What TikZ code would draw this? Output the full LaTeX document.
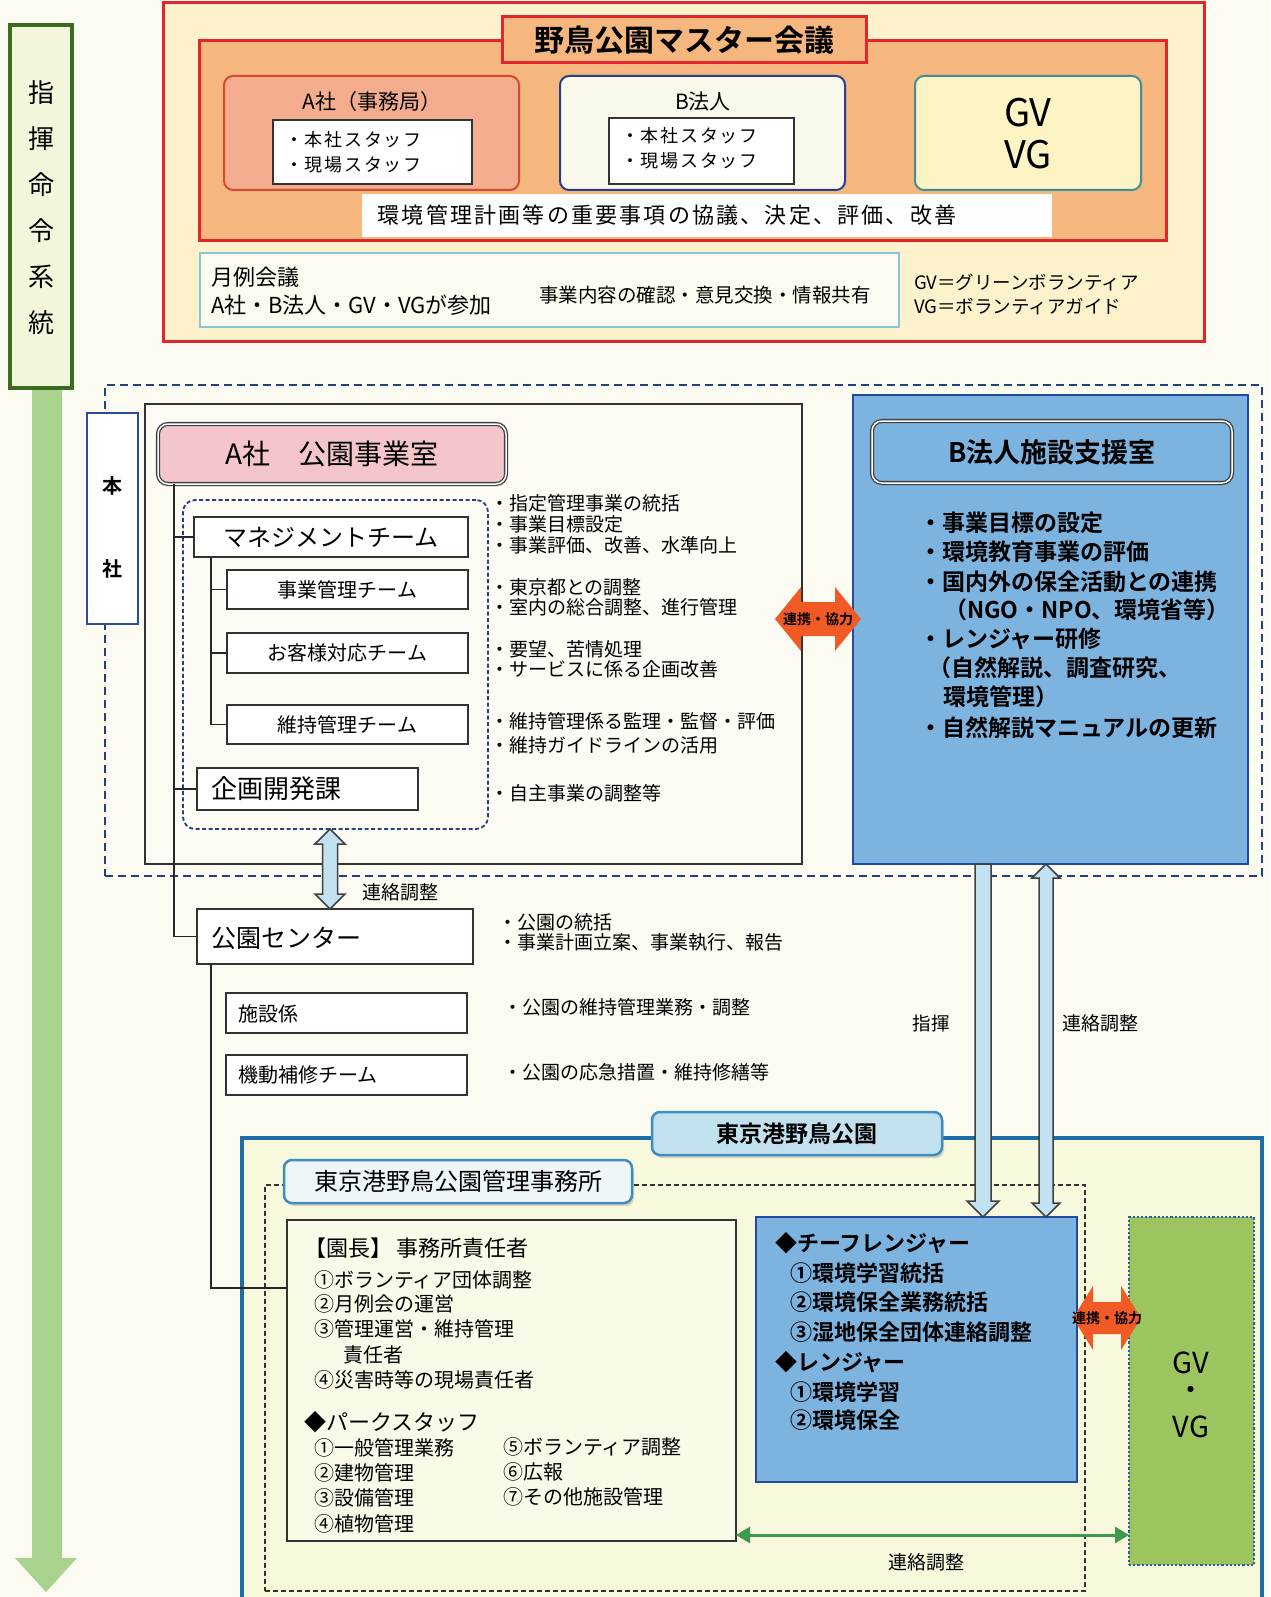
\documentclass[tikz,border=0pt]{standalone}
\usepackage{fontspec}
\setmainfont{Noto Sans CJK JP}[BoldFont={Noto Sans CJK JP Bold}]
\newfontfamily\jpwide{Noto Sans CJK JP}[LetterSpace=10]
\usetikzlibrary{arrows.meta,calc,shadows}
\definecolor{bgc}{HTML}{FCFBF1}
\definecolor{yelT}{HTML}{FDF2CB}
\definecolor{redT}{HTML}{E3262B}
\definecolor{oraT}{HTML}{F5B77E}
\definecolor{salT}{HTML}{F3AC8E}
\definecolor{salB}{HTML}{D9482F}
\definecolor{bwF}{HTML}{FBF9EC}
\definecolor{bwB}{HTML}{26408F}
\definecolor{gvF}{HTML}{FCF4C2}
\definecolor{gvB}{HTML}{3E8E9E}
\definecolor{getsuF}{HTML}{FCFBF0}
\definecolor{getsuB}{HTML}{8BC4D6}
\definecolor{navyD}{HTML}{23407F}
\definecolor{honB}{HTML}{2A4CA8}
\definecolor{aboxF}{HTML}{FCFBF4}
\definecolor{pinkH}{HTML}{F4C6CB}
\definecolor{blueB}{HTML}{7DB3DF}
\definecolor{blueBd}{HTML}{2349A0}
\definecolor{lblue}{HTML}{C3E2F1}
\definecolor{tabF}{HTML}{C2E1EF}
\definecolor{tabB}{HTML}{3F8DC0}
\definecolor{tab2F}{HTML}{EEF6FA}
\definecolor{parkB}{HTML}{1D6EA4}
\definecolor{parkF}{HTML}{F8F8DC}
\definecolor{enchoF}{HTML}{FAFAE8}
\definecolor{gvgF}{HTML}{9CC55F}
\definecolor{gvgB}{HTML}{2A5FA0}
\definecolor{greenA}{HTML}{3D9A4C}
\definecolor{orA}{HTML}{F15A24}
\definecolor{greenL}{HTML}{A8D28E}
\definecolor{greenD}{HTML}{3C6B22}
\definecolor{greenBF}{HTML}{F3F6DA}
\newcommand\bx[7]{\node[#6,minimum width={(#4)-(#2)},minimum height={(#5)-(#3)}] (#1) at ({((#2)+(#4))/2},{((#3)+(#5))/2}) {#7};}
\newcommand\vdown[4]{\path[#1] let \p1=(#2),\p2=(#3) in (\x1-#4pt,\y1) -- (\x1-#4pt,\y2+2*#4pt) -- (\x1-2*#4pt,\y2+2*#4pt) -- (\x1,\y2) -- (\x1+2*#4pt,\y2+2*#4pt) -- (\x1+#4pt,\y2+2*#4pt) -- (\x1+#4pt,\y1) -- cycle;}
\newcommand\vboth[4]{\path[#1] let \p1=(#2),\p2=(#3) in (\x1,\y1) -- (\x1-2*#4pt,\y1-2*#4pt) -- (\x1-#4pt,\y1-2*#4pt) -- (\x1-#4pt,\y2+2*#4pt) -- (\x1-2*#4pt,\y2+2*#4pt) -- (\x1,\y2) -- (\x1+2*#4pt,\y2+2*#4pt) -- (\x1+#4pt,\y2+2*#4pt) -- (\x1+#4pt,\y1-2*#4pt) -- (\x1+2*#4pt,\y1-2*#4pt) -- cycle;}
% horizontal double block arrow: style, centre, half length, head half height, shaft half height, head length
\newcommand\hboth[6]{\path[#1] let \p1=(#2) in (\x1-#3pt,\y1) -- (\x1-#3pt+#6pt,\y1+#4pt) -- (\x1-#3pt+#6pt,\y1+#5pt) -- (\x1+#3pt-#6pt,\y1+#5pt) -- (\x1+#3pt-#6pt,\y1+#4pt) -- (\x1+#3pt,\y1) -- (\x1+#3pt-#6pt,\y1-#4pt) -- (\x1+#3pt-#6pt,\y1-#5pt) -- (\x1-#3pt+#6pt,\y1-#5pt) -- (\x1-#3pt+#6pt,\y1-#4pt) -- cycle;}
\tikzset{
 fs/.style={font=\fontsize{#1}{#1}\selectfont},
 fsb/.style={font=\fontsize{#1}{#1}\selectfont\bfseries},
 tbox/.style={draw=black!80,line width=1.5,fill=white},
 tl/.style={anchor=west},
 tline/.style={draw=black!85,line width=1.5},
 barrow/.style={draw=black!75,line width=1.5,fill=lblue},
 orarrow/.style={fill=orA},
 garrow/.style={draw=greenA,line width=3,{Triangle[length=14pt,width=16pt]}-{Triangle[length=14pt,width=16pt]}},
 hdr/.style={draw=black!75,double=white,double distance=1.5pt,line width=1.3,rounded corners=10},
 tabs/.style={rounded corners=8,line width=2.5,drop shadow={shadow xshift=2pt,shadow yshift=-3pt,opacity=0.3}},
}
\begin{document}
\begin{tikzpicture}[x=1pt,y=-1pt,every node/.style={inner sep=0pt,outer sep=0pt}]
\useasboundingbox (0,0) rectangle (1270,1597);
\fill[bgc] (0,0) rectangle (1270,1597);

% ---------- left command column ----------
\bx{gbox}{10}{25}{72}{388}{draw=greenD,line width=4,fill=greenBF}{}
\fill[greenL] (gbox.south) ++(-9,0) -- ++(0,1170) -- ++(-17,0) -- (46,1592) -- (77,1558) -- (62,1558) -- (62,388) -- cycle;
\draw[greenD,line width=4] (gbox.south west) -- (gbox.south east);
\node[font=\fontsize{26}{46}\selectfont,align=center] (cmd) at (41,208) {指\\揮\\命\\令\\系\\統};

% ---------- top: master meeting ----------
\bx{topouter}{163}{3}{1204}{341}{draw=redT,line width=3,fill=yelT}{}
\bx{orng}{199}{41}{1166}{241}{draw=redT,line width=3,fill=oraT}{}
\bx{ttl}{502}{17}{866}{63}{draw=redT,line width=3,fill=oraT,fsb=30}{野鳥公園マスター会議}
\bx{asha}{224}{76}{519}{190}{draw=salB,line width=2,fill=salT,rounded corners=9}{}
\node[fs=21] (ashat) at (372,102) {A社（事務局）};
\bx{ashain}{273}{120}{472}{184}{draw=black!80,line width=1.5,fill=white}{}
\node[tl,font=\jpwide\fontsize{18}{18}\selectfont] (as1) at (285,140) {・本社スタッフ};
\node[tl,font=\jpwide\fontsize{18}{18}\selectfont] (as2) at (285,165) {・現場スタッフ};
\bx{bho}{560}{76}{845}{190}{draw=bwB,line width=2,fill=bwF,rounded corners=9}{}
\node[fs=21] (bhot) at (703,102) {B法人};
\bx{bhoin}{609}{118}{794}{184}{draw=black!80,line width=1.5,fill=white}{}
\node[tl,font=\jpwide\fontsize{18}{18}\selectfont] (bs1) at (621,136) {・本社スタッフ};
\node[tl,font=\jpwide\fontsize{18}{18}\selectfont] (bs2) at (621,161) {・現場スタッフ};
\bx{gvtop}{915}{76}{1141}{190}{draw=gvB,line width=2,fill=gvF,rounded corners=9}{}
\node[fs=38] (gv1) at (1028,113) {GV};
\node[fs=38] (gv2) at (1028,155) {VG};
\bx{strip}{362}{194}{1052}{237}{fill=white}{}
\node[font=\jpwide\fontsize{22}{22}\selectfont] (stript) at (667,215) {環境管理計画等の重要事項の協議、決定、評価、改善};
\bx{getsu}{200}{253}{899}{327}{draw=getsuB,line width=1.8,fill=getsuF}{}
\node[tl,fs=22] (g1) at (211,277) {月例会議};
\node[tl,fs=22] (g2) at (211,305) {A社・B法人・GV・VGが参加};
\node[fs=19.5] (g3) at (705,295) {事業内容の確認・意見交換・情報共有};
\node[tl,fs=18.5] (abbr1) at (914,282) {GV＝グリーンボランティア};
\node[tl,fs=18.5] (abbr2) at (914,307) {VG＝ボランティアガイド};

% ---------- middle ----------
\bx{dmid}{105}{385}{1262}{876}{draw=navyD,dash pattern=on 8pt off 5pt,line width=2}{}
\bx{honsha}{87}{413}{138}{624}{draw=honB,line width=2,fill=white}{}
\node[fsb=20] (hon1) at (112,486) {本};
\node[fsb=20] (hon2) at (112,569) {社};
\bx{abox}{145}{404}{802}{864}{draw=black!80,line width=1.5,fill=aboxF}{}
\bx{hdrA}{158}{424}{506}{484}{hdr,fill=pinkH,fs=28}{A社　公園事業室}
\bx{idash}{183}{500}{488}{829}{draw=navyD,dash pattern=on 4pt off 2.5pt,line width=1.8,rounded corners=12}{}
\bx{mgmt}{194}{517}{468}{557}{tbox,fs=24}{マネジメントチーム}
\bx{jigyo}{227}{570}{468}{609}{tbox,fs=20}{事業管理チーム}
\bx{okyaku}{227}{633}{468}{673}{tbox,fs=20}{お客様対応チーム}
\bx{iji}{227}{705}{468}{744}{tbox,fs=20}{維持管理チーム}
\bx{kikaku}{197}{768}{418}{810}{tbox}{}
\node[tl,fs=26] (kikakut) at (211,789) {企画開発課};
\node[tl,fs=19] (ab1) at (490,503) {・指定管理事業の統括};
\node[tl,fs=19] (ab2) at (490,524) {・事業目標設定};
\node[tl,fs=19] (ab3) at (490,545) {・事業評価、改善、水準向上};
\node[tl,fs=19] (ab4) at (490,587) {・東京都との調整};
\node[tl,fs=19] (ab5) at (490,607) {・室内の総合調整、進行管理};
\node[tl,fs=19] (ab6) at (490,649) {・要望、苦情処理};
\node[tl,fs=19] (ab7) at (490,669) {・サービスに係る企画改善};
\node[tl,fs=19] (ab8) at (490,721) {・維持管理係る監理・監督・評価};
\node[tl,fs=19] (ab9) at (490,745) {・維持ガイドラインの活用};
\node[tl,fs=19] (ab10) at (490,793) {・自主事業の調整等};

\bx{bbox}{853}{395}{1248}{864}{draw=blueBd,line width=2,fill=blueB}{}
\bx{hdrB}{872}{421}{1232}{483}{hdr,fill=blueB,fsb=27}{B法人施設支援室}
\node[tl,fsb=23] (bb1) at (919,523) {・事業目標の設定};
\node[tl,fsb=23] (bb2) at (919,552) {・環境教育事業の評価};
\node[tl,fsb=23] (bb3) at (919,582) {・国内外の保全活動との連携};
\node[tl,fsb=23] (bb4) at (944,610) {（NGO・NPO、環境省等）};
\node[tl,fsb=23] (bb5) at (919,639) {・レンジャー研修};
\node[tl,fsb=23] (bb6) at (928,668) {（自然解説、調査研究、};
\node[tl,fsb=23] (bb7) at (943,697) {環境管理）};
\node[tl,fsb=23] (bb8) at (919,728) {・自然解説マニュアルの更新};

\coordinate (oa1) at (818,619);
\hboth{orarrow}{oa1}{43}{32}{17}{26}
\node[fsb=14] (oa1t) at (oa1) {連携・協力};

\bx{koen}{197}{909}{473}{964}{tbox}{}
\node[tl,fs=25] (koent) at (211,938) {公園センター};
\node[tl,fs=19] (kb1) at (498,922) {・公園の統括};
\node[tl,fs=19] (kb2) at (498,942) {・事業計画立案、事業執行、報告};
\bx{shisetsu}{226}{993}{467}{1033}{tbox}{}
\node[tl,fs=20] (shisetsut) at (238,1014) {施設係};
\bx{kido}{226}{1055}{467}{1095}{tbox}{}
\node[tl,fs=20] (kidot) at (238,1075) {機動補修チーム};
\node[tl,fs=19] (sb1) at (503,1007) {・公園の維持管理業務・調整};
\node[tl,fs=19] (sb2) at (503,1072) {・公園の応急措置・維持修繕等};

% tree lines
\coordinate (tx) at (174,0);
\coordinate (sx) at (211,0);
\coordinate (ey) at (0,1288);
\draw[tline] (hdrA.south -| tx) |- (koen.west);
\draw[tline] (mgmt.west -| tx) -- (mgmt.west);
\draw[tline] (kikaku.west -| tx) -- (kikaku.west);
\draw[tline] (mgmt.south -| sx) |- (iji.west);
\draw[tline] (jigyo.west -| sx) -- (jigyo.west);
\draw[tline] (okyaku.west -| sx) -- (okyaku.west);

% link arrow between A-room and park center
\coordinate (lx) at (330,0);
\vboth{barrow}{idash.south -| lx}{koen.north -| lx}{7.5}
\node[fs=19] (lk1) at (400,892) {連絡調整};

% ---------- bottom: park ----------
\bx{park}{242}{1138}{1262}{1625}{draw=parkB,line width=4,fill=parkF}{}
\bx{parktab}{652}{1112}{942}{1155}{tabs,draw=tabB,fill=tabF,fsb=23}{東京港野鳥公園}
\bx{dbot}{265}{1185}{1085}{1591}{draw=black!80,dash pattern=on 5pt off 3pt,line width=1.3}{}
\bx{jimutab}{284}{1160}{632}{1203}{tabs,draw=tabB,fill=tab2F,fs=24}{東京港野鳥公園管理事務所}
\bx{encho}{287}{1220}{736}{1541}{draw=black!80,line width=1.5,fill=enchoF}{}
\node[tl,fs=22] (e0) at (304,1248) {【園長】 事務所責任者};
\node[tl,fs=20] (e1) at (314,1280) {①ボランティア団体調整};
\node[tl,fs=20] (e2) at (314,1304) {②月例会の運営};
\node[tl,fs=20] (e3) at (314,1329) {③管理運営・維持管理};
\node[tl,fs=20] (e3b) at (343,1355) {責任者};
\node[tl,fs=20] (e4) at (314,1380) {④災害時等の現場責任者};
\node[tl,fs=22] (p0) at (304,1422) {◆パークスタッフ};
\node[tl,fs=20] (p1) at (314,1448) {①一般管理業務};
\node[tl,fs=20] (p2) at (314,1473) {②建物管理};
\node[tl,fs=20] (p3) at (314,1498) {③設備管理};
\node[tl,fs=20] (p4) at (314,1524) {④植物管理};
\node[tl,fs=20] (p5) at (503,1447) {⑤ボランティア調整};
\node[tl,fs=20] (p6) at (503,1472) {⑥広報};
\node[tl,fs=20] (p7) at (503,1497) {⑦その他施設管理};

\bx{blue}{756}{1217}{1077}{1482}{draw=blueBd,line width=2,fill=blueB}{}
\node[tl,fsb=22] (r0) at (775,1243) {◆チーフレンジャー};
\node[tl,fsb=22] (r1) at (790,1273) {①環境学習統括};
\node[tl,fsb=22] (r2) at (790,1302) {②環境保全業務統括};
\node[tl,fsb=22] (r3) at (790,1332) {③湿地保全団体連絡調整};
\node[tl,fsb=22] (r4) at (775,1362) {◆レンジャー};
\node[tl,fsb=22] (r5) at (790,1392) {①環境学習};
\node[tl,fsb=22] (r6) at (790,1420) {②環境保全};

\bx{gv}{1129}{1217}{1254}{1565}{draw=gvgB,dotted,line width=2.2,fill=gvgF}{}
\node[fs=29] (gvb1) at (1191,1363) {GV};
\node[fs=29] (gvb2) at (1191,1393) {・};
\node[fs=29] (gvb3) at (1191,1427) {VG};

\draw[tline] (koen.south -| sx) |- (encho.west |- ey);

% arrows from B room
\coordinate (ax1) at (983,0);
\coordinate (ax2) at (1046,0);
\vdown{barrow}{bbox.south -| ax1}{blue.north -| ax1}{8}
\vboth{barrow}{bbox.south -| ax2}{blue.north -| ax2}{7}
\node[fs=18.5] (cmdl) at (931,1023) {指揮};
\node[fs=19] (lk2) at (1100,1023) {連絡調整};

\coordinate (oa2) at (1107,1318);
\hboth{orarrow}{oa2}{34}{32}{16}{20}
\node[fsb=14] (oa2t) at (oa2) {連携・協力};

\coordinate (gy) at (0,1535);
\draw[garrow] (encho.east |- gy) -- (gv.west |- gy);
\node[fs=19] (lk3) at (926,1562) {連絡調整};
\end{tikzpicture}
\end{document}
